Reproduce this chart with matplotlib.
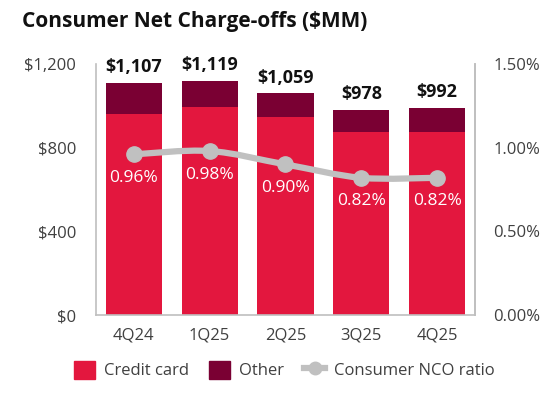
import matplotlib
matplotlib.use("Agg")
import matplotlib.pyplot as plt
import numpy as np
from matplotlib.path import Path
from matplotlib.patches import PathPatch, Patch
from matplotlib.lines import Line2D

plt.rcParams['font.family'] = ['Open Sans', 'DejaVu Sans']

# data
quarters = ['4Q24', '1Q25', '2Q25', '3Q25', '4Q25']
totals = [1107, 1119, 1059, 978, 992]
credit_card = [960, 993, 948, 875, 875]
other = [t - c for t, c in zip(totals, credit_card)]
nco_ratio = [0.96, 0.98, 0.90, 0.82, 0.82]

red = '#E3173E'
maroon = '#7A0033'
gray = '#C0C0C0'
spine_col = '#BFBFBF'
tick_col = '#404040'

fig = plt.figure(figsize=(5.57, 3.95), dpi=100)
ax = fig.add_axes([0.172, 0.2025, 0.681, 0.6355])
x = np.arange(len(quarters))
w = 0.74

ax.bar(x, credit_card, w, color=red, zorder=2)
ax.bar(x, other, w, bottom=credit_card, color=maroon, zorder=2)

for xi, t in zip(x, totals):
    ax.annotate(f'${t:,}', (xi, t), xytext=(0, 5), textcoords='offset points',
                ha='center', va='bottom', fontsize=13, fontweight='bold', color='#111111')

ax.set_xlim(-0.5, 4.5)
ax.set_ylim(0, 1200)
ax.set_yticks([0, 400, 800, 1200])
ax.set_yticklabels(['$0', '$400', '$800', '$1,200'])
ax.set_xticks(x)
ax.set_xticklabels(quarters)
ax.tick_params(axis='y', length=0, pad=14, labelsize=12, labelcolor=tick_col)
ax.tick_params(axis='x', length=0, pad=9, labelsize=12, labelcolor=tick_col)
for s in ['left', 'bottom', 'right']:
    ax.spines[s].set_color(spine_col)
    ax.spines[s].set_linewidth(1.2)
ax.spines['top'].set_visible(False)

ax2 = ax.twinx()
ax2.set_ylim(0, 1.5)
ax2.set_yticks([0, 0.5, 1.0, 1.5])
ax2.set_yticklabels(['0.00%', '0.50%', '1.00%', '1.50%'])
ax2.tick_params(axis='y', length=0, pad=13, labelsize=12, labelcolor=tick_col)
for s in ['left', 'bottom', 'top']:
    ax2.spines[s].set_visible(False)
ax2.spines['right'].set_color(spine_col)
ax2.spines['right'].set_linewidth(1.2)

# smooth line through the ratio points (Catmull-Rom style bezier)
pts = np.column_stack([x, nco_ratio]).astype(float)
verts = [pts[0]]
codes = [Path.MOVETO]
k = 1 / 6
for i in range(len(pts) - 1):
    p0 = pts[max(i - 1, 0)]
    p1 = pts[i]
    p2 = pts[i + 1]
    p3 = pts[min(i + 2, len(pts) - 1)]
    c1 = p1 + (p2 - p0) * k
    c2 = p2 - (p3 - p1) * k
    verts += [c1, c2, p2]
    codes += [Path.CURVE4] * 3
ax2.add_patch(PathPatch(Path(verts, codes), fill=False, edgecolor=gray,
                        linewidth=4.5, capstyle='round', zorder=3))
ax2.plot(x, nco_ratio, 'o', color=gray, markersize=11, zorder=4)

for xi, r in zip(x, nco_ratio):
    ax2.annotate(f'{r:.2f}%', (xi, r), xytext=(0, -17), textcoords='offset points',
                 ha='center', va='center', fontsize=12.5, color='white', zorder=5)

fig.text(0.039, 0.945, 'Consumer Net Charge-offs ($MM)', fontsize=15,
         fontweight='bold', ha='left', va='center', color='#111111')

handles = [Patch(color=red, label='Credit card'),
           Patch(color=maroon, label='Other'),
           Line2D([0], [0], color=gray, linewidth=4.5, marker='o', markersize=9,
                  label='Consumer NCO ratio')]
fig.legend(handles=handles, loc='center', bbox_to_anchor=(0.51, 0.063), ncol=3,
           frameon=False, fontsize=12, handlelength=1.3, handleheight=1.3,
           handletextpad=0.5, columnspacing=1.2, labelcolor=tick_col)

fig.savefig('out.png', dpi=100)
